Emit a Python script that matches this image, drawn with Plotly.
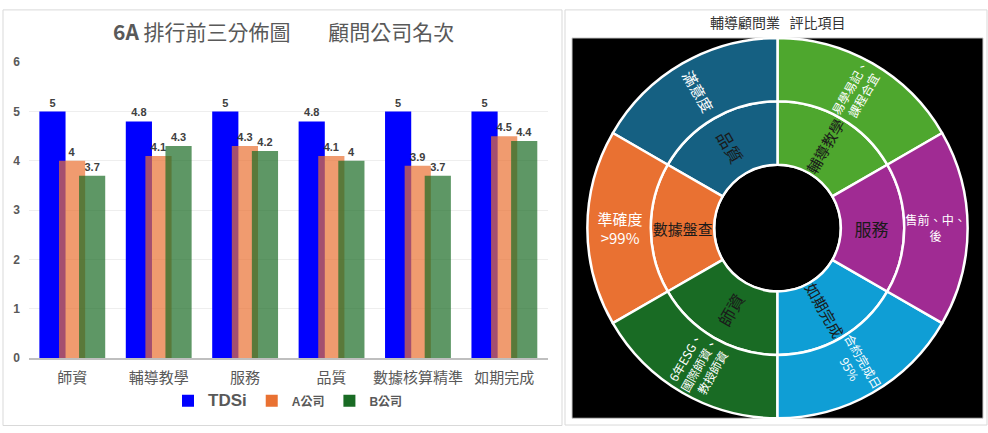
import plotly.graph_objects as go

# ---- bar chart data ----
categories = ["師資", "輔導教學", "服務", "品質", "數據核算精準", "如期完成"]
tdsi = [5, 4.8, 5, 4.8, 5, 5]
a_co = [4, 4.1, 4.3, 4.1, 3.9, 4.5]
b_co = [3.7, 4.3, 4.2, 4, 3.7, 4.4]
y_ticks = [0, 1, 2, 3, 4, 5, 6]

# ---- sunburst data ----
sb_groups = ["輔導教學", "品質", "數據盤查", "師資", "如期完成", "服務"]
sb_items = ["易學易記、<br>課程合宜", "滿意度", "準確度<br>&gt;99%",
            "6年ESG、<br>國際師資、<br>教授師資", "合約完成日<br>95%", "售前、中、<br>後"]
sb_colors = ["#4EA72E", "#156082", "#E97132", "#196B24", "#0F9ED5", "#A02B93"]

W, H = 988, 433
def px(x):
    return x / W
def py(y):
    return 1 - y / H

SANS = "Liberation Sans, Noto Sans CJK TC, sans-serif"
CJK = "Noto Sans CJK TC, Liberation Sans, sans-serif"

fig = go.Figure()

bar_w = 0.303
offsets = [-0.38, -0.153, 0.079]
series = [
    ("<span style='font-size:17px'><b>TDSi</b></span>", tdsi, "#0000FF", 1.0),
    ("<b>A公司</b>", a_co, "#E97132", 0.7),
    ("<b>B公司</b>", b_co, "#196B24", 0.7),
]
for (name, vals, col, op), off in zip(series, offsets):
    fig.add_trace(go.Bar(
        x=categories, y=vals, name=name,
        offset=off, width=bar_w,
        marker=dict(color=col, opacity=op, line=dict(width=0)),
        text=vals, texttemplate="<b>%{y}</b>", textposition="outside",
        textfont=dict(family=SANS, size=11, color="#404040"),
        cliponaxis=False,
        xaxis="x", yaxis="y",
    ))

# sunburst
ids = ["root"] + ["g" + str(i) for i in range(len(sb_groups))] + ["l" + str(i) for i in range(len(sb_items))]
labels = [" "] + sb_groups + sb_items
parents = [""] + ["root"] * len(sb_groups) + ["g" + str(i) for i in range(len(sb_items))]
colors = ["#000000"] + sb_colors + sb_colors
texts = [""] + sb_groups + sb_items
tcolors = ["#000000"] + ["#1a1a1a"] * len(sb_groups) + ["#ffffff"] * len(sb_items)
tsizes = [10] + [17] * len(sb_groups) + [15] * len(sb_items)

fig.add_trace(go.Sunburst(
    ids=ids, labels=labels, parents=parents,
    text=texts, texttemplate="%{text}",
    marker=dict(colors=colors, line=dict(color="#ffffff", width=2.5)),
    leaf=dict(opacity=1),
    sort=False, rotation=30,
    insidetextorientation="radial",
    textfont=dict(family=CJK, size=tsizes, color=tcolors),
    domain=dict(x=[px(572), px(983)], y=[py(425), py(32)]),
    hoverinfo="label",
))

fig.update_layout(
    width=W, height=H,
    margin=dict(l=0, r=0, t=0, b=0),
    paper_bgcolor="#ffffff", plot_bgcolor="#ffffff",
    barmode="overlay",
    xaxis=dict(domain=[px(29), px(547.5)], range=[-0.5, 5.5], type="category",
               showgrid=False, showline=True, linecolor="#bfbfbf", linewidth=2,
               ticks="", tickfont=dict(family=CJK, size=15, color="#595959"),
               ticklabelstandoff=5, fixedrange=True),
    yaxis=dict(domain=[py(363), py(57)], range=[0, 6], tickvals=y_ticks,
               ticktext=["<b>%d</b>" % v for v in y_ticks],
               showgrid=True, gridcolor="#eeeeee", gridwidth=1, zeroline=False,
               showline=False, ticks="",
               tickfont=dict(family=SANS, size=12, color="#595959"),
               ticklabelstandoff=8, fixedrange=True),
    legend=dict(orientation="h", x=px(288), xanchor="center", y=py(407), yanchor="middle",
                font=dict(family=SANS, size=12, color="#595959"),
                itemwidth=30, bgcolor="rgba(0,0,0,0)", traceorder="normal"),
    shapes=[
        dict(type="rect", xref="paper", yref="paper", x0=px(3), x1=px(562), y0=py(432.5), y1=py(3),
             line=dict(color="#d9d9d9", width=1), fillcolor="rgba(0,0,0,0)", layer="below"),
        dict(type="rect", xref="paper", yref="paper", x0=px(565), x1=px(987), y0=py(432), y1=py(3),
             line=dict(color="#d9d9d9", width=1), fillcolor="rgba(0,0,0,0)", layer="below"),
        dict(type="rect", xref="paper", yref="paper", x0=px(572), x1=px(983), y0=py(425), y1=py(32),
             line=dict(color="#cccccc", width=1), fillcolor="#000000", layer="below"),
    ],
    annotations=[
        dict(text="<b>6A</b> 排行前三分佈圖\u00a0\u00a0\u00a0\u00a0\u00a0\u00a0\u00a0\u00a0顧問公司名次",
             xref="paper", yref="paper", x=px(283), y=py(25), xanchor="center", yanchor="middle",
             showarrow=False, font=dict(family=CJK, size=21, color="#595959")),
        dict(text="輔導顧問業\u00a0\u00a0 評比項目",
             xref="paper", yref="paper", x=px(777), y=py(15), xanchor="center", yanchor="middle",
             showarrow=False, font=dict(family=CJK, size=14, color="#333333")),
    ],
)

fig.write_html("out.html", config={"displayModeBar": False},
               post_script="document.body.style.margin='0';")
